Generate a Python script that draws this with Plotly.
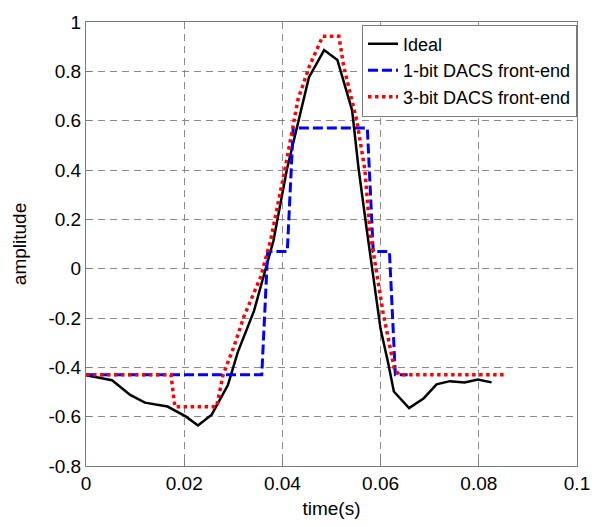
import plotly.graph_objects as go

# Ideal waveform
ideal_t = [0.0, 0.0053, 0.009, 0.012, 0.0166, 0.0203, 0.0228, 0.0256, 0.0289, 0.0309,
           0.0342, 0.0362, 0.0382, 0.0409, 0.0429, 0.0454, 0.0485, 0.0512, 0.0542, 0.0555,
           0.0572, 0.0600, 0.0615, 0.0627, 0.0658, 0.0688, 0.0714, 0.0741, 0.0771, 0.0798, 0.0826]
ideal_y = [-0.432, -0.452, -0.512, -0.543, -0.559, -0.599, -0.636, -0.592, -0.472, -0.339,
           -0.172, -0.032, 0.115, 0.401, 0.568, 0.775, 0.886, 0.846, 0.642, 0.408,
           0.155, -0.245, -0.378, -0.498, -0.565, -0.525, -0.469, -0.456, -0.461, -0.449, -0.461]

# 1-bit DACS front-end
bit1_t = [0.0, 0.0358, 0.0370, 0.0410, 0.0422, 0.0573, 0.0585, 0.0618, 0.0630, 0.0655]
bit1_y = [-0.43, -0.43, 0.07, 0.07, 0.57, 0.57, 0.07, 0.07, -0.43, -0.43]

# 3-bit DACS front-end
bit3_t = [0.0, 0.0173, 0.0181, 0.0266, 0.0279, 0.0302, 0.0322, 0.0356, 0.0376, 0.0405,
          0.0432, 0.0455, 0.0482, 0.0515, 0.0525, 0.0552, 0.0568, 0.0578, 0.0605, 0.0628,
          0.0638, 0.0851]
bit3_y = [-0.43, -0.43, -0.56, -0.56, -0.432, -0.312, -0.192, -0.032, 0.115, 0.401,
          0.688, 0.821, 0.942, 0.942, 0.82, 0.595, 0.40, 0.155, -0.178, -0.405,
          -0.43, -0.43]

x_ticks = [0, 0.02, 0.04, 0.06, 0.08, 0.1]
x_labels = ["0", "0.02", "0.04", "0.06", "0.08", "0.1"]
y_ticks = [-0.8, -0.6, -0.4, -0.2, 0, 0.2, 0.4, 0.6, 0.8, 1]
y_labels = ["-0.8", "-0.6", "-0.4", "-0.2", "0", "0.2", "0.4", "0.6", "0.8", "1"]

FONT = "Liberation Sans, Arial, Helvetica"

fig = go.Figure()
fig.add_trace(go.Scatter(x=ideal_t, y=ideal_y, mode="lines", name="Ideal",
                         line=dict(color="black", width=2.5)))
fig.add_trace(go.Scatter(x=bit1_t, y=bit1_y, mode="lines", name="1-bit DACS front-end",
                         line=dict(color="#0000ff", width=3, dash="10px,4px")))
fig.add_trace(go.Scatter(x=bit3_t, y=bit3_y, mode="lines", name="3-bit DACS front-end",
                         line=dict(color="#ff0000", width=3.5, dash="dot")))

axis_common = dict(showgrid=True, gridcolor="#8a8a8a", griddash="7px,5px", gridwidth=1,
                   showline=True, linecolor="#7a7a7a", linewidth=1, mirror=True,
                   zeroline=False, ticks="inside", ticklen=5, tickcolor="#7a7a7a",
                   tickfont=dict(family=FONT, size=19, color="black"))

fig.update_layout(
    width=602, height=527,
    margin=dict(l=86, r=16, t=19, b=58),
    plot_bgcolor="white", paper_bgcolor="white",
    font=dict(family=FONT, size=19, color="black"),
    xaxis=dict(range=[0, 0.1], tickvals=x_ticks, ticktext=x_labels,
               title=dict(text="time(s)", standoff=8, font=dict(size=19)), **axis_common),
    yaxis=dict(range=[-0.8, 1], tickvals=y_ticks, ticktext=y_labels,
               title=dict(text="amplitude", standoff=16, font=dict(size=19)), **axis_common),
    legend=dict(x=1, y=0.994, xanchor="right", yanchor="top", bgcolor="white",
                bordercolor="#7a7a7a", borderwidth=1, font=dict(family=FONT, size=18),
                tracegroupgap=0, itemwidth=30),
    showlegend=True,
)

fig.write_html("out.html")
